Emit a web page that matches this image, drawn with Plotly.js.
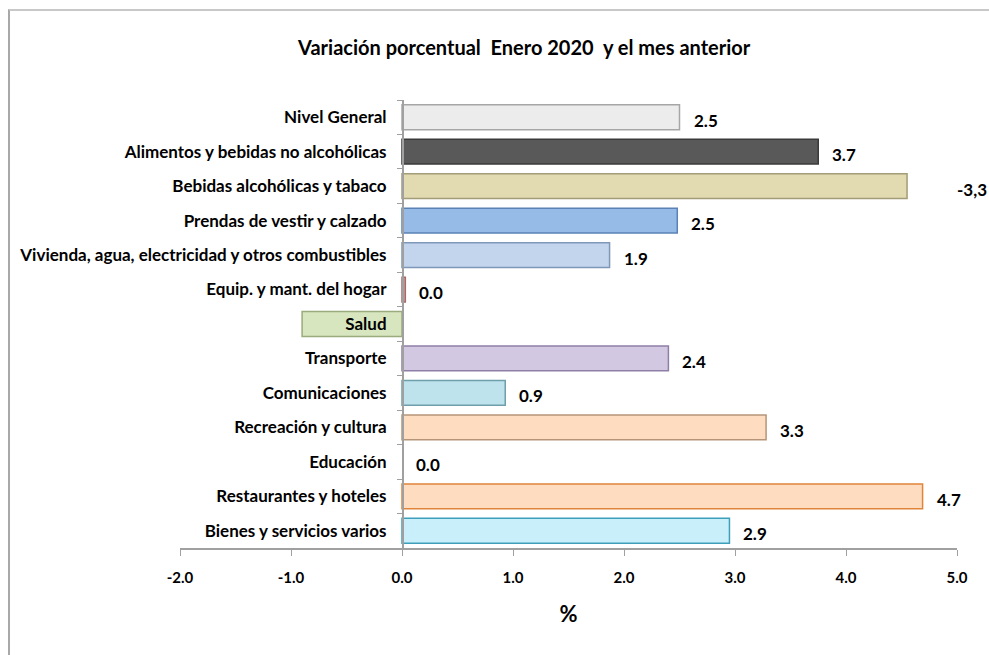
<!DOCTYPE html>
<html>
<head>
<meta charset="utf-8">
<script src="https://cdn.plot.ly/plotly-3.0.1.min.js"></script>
<style>
html,body{margin:0;padding:0;background:#fff;}
#wrap{position:relative;width:989px;height:655px;overflow:hidden;}
#chart{position:absolute;left:0;top:0;width:989px;height:655px;}
#frame{position:absolute;left:8px;top:9px;width:1000px;height:700px;border-top:2px solid #c8c8c8;border-left:2px solid #a8a8a8;pointer-events:none;}
</style>
</head>
<body>
<div id="wrap"><div id="chart"></div><div id="frame"></div></div>
<script>
const categories = [
  "Nivel General",
  "Alimentos y bebidas no alcohólicas",
  "Bebidas alcohólicas y tabaco",
  "Prendas de vestir y calzado",
  "Vivienda, agua, electricidad y otros combustibles",
  "Equip. y mant. del hogar",
  "Salud",
  "Transporte",
  "Comunicaciones",
  "Recreación y cultura",
  "Educación",
  "Restaurantes y hoteles",
  "Bienes y servicios varios"
];
const values = [2.5, 3.75, 4.55, 2.48, 1.87, 0.03, -0.9, 2.4, 0.93, 3.28, 0.0, 4.69, 2.95];
const valueLabels = ["2.5", "3.7", "-3,3", "2.5", "1.9", "0.0", "", "2.4", "0.9", "3.3", "0.0", "4.7", "2.9"];
const fillColors = ["#ececec", "#595959", "#e2dab0", "#95bbe6", "#c3d5ec", "#d9a0a0", "#d8e6bf", "#d3c8e2", "#bfe3ec", "#fddcc0", "#ffffff", "#fddcc0", "#c9f0fa"];
const lineColors = ["#a6a6a6", "#3a3a3a", "#a39c78", "#5a82b4", "#7f97b8", "#a66a6a", "#9aab7d", "#8e7fa6", "#6e9faa", "#b5957a", "#ffffff", "#e0843a", "#3f9fba"];
const xTicks = [-2, -1, 0, 1, 2, 3, 4, 5];
const xTickText = ["-2.0", "-1.0", "0.0", "1.0", "2.0", "3.0", "4.0", "5.0"];
const xRange = [-2, 5];

const FONT = "Lato, 'Open Sans', sans-serif";

const trace = {
  type: "bar",
  orientation: "h",
  y: categories,
  x: values,
  width: 0.72,
  marker: {color: fillColors, line: {color: lineColors, width: 1.5}},
  hoverinfo: "x+y",
  showlegend: false
};

// value labels, positioned from the data values
const annotations = valueLabels.map((t, i) => {
  if (!t) return null;
  const farRight = (t.indexOf(",") >= 0);
  return {
    x: farRight ? xRange[1] : Math.max(values[i], 0),
    y: categories[i],
    xref: "x", yref: "y",
    text: "<b>" + t + "</b>",
    showarrow: false,
    xanchor: "left",
    yanchor: "middle",
    xshift: farRight ? -2 : 12,
    yshift: -3,
    font: {family: FONT, size: 17, color: "#000"}
  };
}).filter(a => a);

const layout = {
  width: 989, height: 655,
  margin: {l: 180, r: 32, t: 100, b: 107},
  paper_bgcolor: "rgba(0,0,0,0)",
  plot_bgcolor: "rgba(0,0,0,0)",
  title: {
    text: "<b>Variación porcentual  Enero 2020  y el mes anterior</b>",
    x: 0.53, xanchor: "center", y: 0.927, yanchor: "middle",
    font: {family: FONT, size: 20, color: "#000"}
  },
  xaxis: {
    range: xRange,
    tickvals: xTicks,
    ticktext: xTickText,
    showgrid: false,
    zeroline: false,
    showline: true,
    linecolor: "#a0a0a0",
    linewidth: 1.5,
    ticks: "outside",
    ticklen: 6,
    tickcolor: "#a0a0a0",
    ticklabelstandoff: 9,
    tickfont: {family: FONT, size: 15, color: "#000", weight: "bold"},
    title: {text: "<b>%</b>", font: {family: FONT, size: 22, color: "#000"}, standoff: 22},
    fixedrange: true
  },
  yaxis: {
    type: "category",
    autorange: "reversed",
    anchor: "free",
    position: (0 - xRange[0]) / (xRange[1] - xRange[0]),
    showgrid: false,
    zeroline: false,
    showline: true,
    linecolor: "#a0a0a0",
    linewidth: 1.5,
    ticks: "outside",
    tickson: "boundaries",
    ticklen: 5,
    tickcolor: "#a0a0a0",
    tickfont: {family: FONT, size: 17, color: "#000", weight: "bold"},
    ticklabelstandoff: 12,
    fixedrange: true
  },
  annotations: annotations,
  bargap: 0.28
};

Plotly.newPlot("chart", [trace], layout, {displayModeBar: false, staticPlot: true});
</script>
</body>
</html>
